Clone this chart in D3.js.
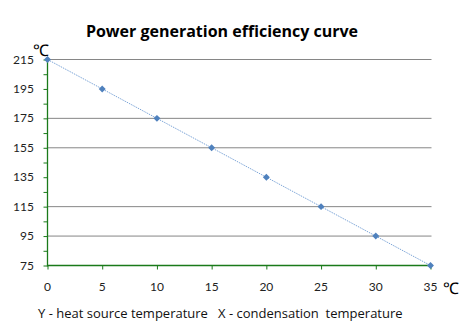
<!DOCTYPE html>
<html>
<head>
<meta charset="utf-8">
<script src="https://cdn.jsdelivr.net/npm/d3@7"></script>
<style>
  body { margin: 0; background: #fff; }
  svg { display: block; }
</style>
</head>
<body>
<div id="container"></div>
<script>
// condensation temperature (x) vs heat source temperature (y)
var condTemps = [0, 5, 10, 15, 20, 25, 30, 35];
var heatTemps = [215, 195, 175, 155, 135, 115, 95, 75];
var yTicks = [75, 95, 115, 135, 155, 175, 195, 215];
var gridVals = [95, 115, 155, 175, 215];

var width = 470, height = 333;
var svg = d3.select("#container").append("svg")
  .attr("width", width)
  .attr("height", height);

var x = d3.scaleLinear().domain([0, 35]).range([47.5, 430.5]);
var y = d3.scaleLinear().domain([75, 215]).range([265.5, 59.5]);

// grid lines
svg.append("g").selectAll("line")
  .data(gridVals)
  .enter().append("line")
  .attr("x1", x(0)).attr("x2", x(35) + 1)
  .attr("y1", function(d) { return y(d); })
  .attr("y2", function(d) { return y(d); })
  .style("stroke", "#868686")
  .style("stroke-width", 1);

// y axis with minor ticks every 10
var yAxis = d3.axisLeft(y)
  .tickValues(d3.range(75, 216, 10))
  .tickSize(4)
  .tickFormat("");
var yg = svg.append("g").attr("transform", "translate(" + x(0) + ",0)").call(yAxis);
yg.select(".domain").remove();
yg.selectAll("line").style("stroke", "#1a7a1a");
svg.append("line")
  .attr("x1", x(0)).attr("x2", x(0))
  .attr("y1", y(215)).attr("y2", y(75) + 1)
  .style("stroke", "#1a7a1a").style("stroke-width", 1.3);

// y labels
svg.append("g").selectAll("text")
  .data(yTicks)
  .enter().append("text")
  .attr("x", 34)
  .attr("y", function(d) { return y(d) + 4; })
  .attr("text-anchor", "end")
  .style("font-family", "Lato, 'Open Sans', sans-serif")
  .style("font-size", "12px")
  .style("fill", "#222")
  .text(function(d) { return d; });

// x axis
var xAxis = d3.axisBottom(x).tickValues(condTemps).tickSize(4).tickFormat("");
var xg = svg.append("g").attr("transform", "translate(0," + y(75) + ")").call(xAxis);
xg.select(".domain").remove();
xg.selectAll("line").style("stroke", "#1a7a1a");
svg.append("line")
  .attr("x1", x(0)).attr("x2", x(35))
  .attr("y1", y(75)).attr("y2", y(75))
  .style("stroke", "#1a7a1a").style("stroke-width", 1.3);

svg.append("g").selectAll("text")
  .data(condTemps)
  .enter().append("text")
  .attr("x", function(d) { return x(d); })
  .attr("y", 291)
  .attr("text-anchor", "middle")
  .style("font-family", "Lato, 'Open Sans', sans-serif")
  .style("font-size", "12px")
  .style("fill", "#222")
  .text(function(d) { return d; });

// units
svg.append("text")
  .attr("x", 33).attr("y", 56)
  .style("font-family", "'Liberation Serif', serif")
  .style("font-size", "16px")
  .text("\u2103");
svg.append("text")
  .attr("x", 443).attr("y", 294)
  .style("font-family", "'Liberation Serif', serif")
  .style("font-size", "16px")
  .text("\u2103");

// line + markers
var pts = condTemps.map(function(d, i) { return { x: d, y: heatTemps[i] }; });
var line = d3.line()
  .x(function(d) { return x(d.x); })
  .y(function(d) { return y(d.y); });
svg.append("path")
  .datum(pts)
  .attr("d", line)
  .style("fill", "none")
  .style("stroke", "#7ea6d8")
  .style("stroke-width", 1)
  .style("stroke-dasharray", "1.5,1");

svg.append("g").selectAll("path")
  .data(pts)
  .enter().append("path")
  .attr("transform", function(d) { return "translate(" + x(d.x) + "," + y(d.y) + ") rotate(45)"; })
  .attr("d", d3.symbol().type(d3.symbolSquare).size(24))
  .style("fill", "#4f81bd");

// title and caption
svg.append("text")
  .attr("x", 222).attr("y", 37)
  .attr("text-anchor", "middle")
  .style("font-family", "'Open Sans', sans-serif")
  .style("font-weight", "bold")
  .style("font-size", "16px")
  .text("Power generation efficiency curve");

svg.append("text")
  .attr("x", 38).attr("y", 318)
  .style("font-family", "'Open Sans', sans-serif")
  .style("font-size", "13px")
  .style("fill", "#111")
  .attr("xml:space", "preserve")
  .text("Y - heat source temperature   X - condensation  temperature");
</script>
</body>
</html>
